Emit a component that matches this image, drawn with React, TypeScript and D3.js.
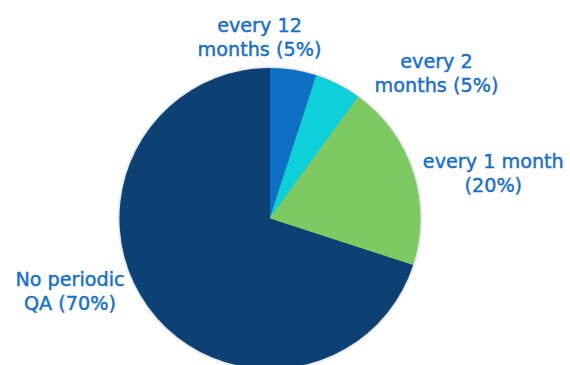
import React from "react";
import * as d3 from "d3";

const categories = ["every 12 months", "every 2 months", "every 1 month", "No periodic QA"];
const values = [5, 5, 20, 70];
const labelLines = [
  ["every 12", "months (5%)"],
  ["every 2", "months (5%)"],
  ["every 1 month", "(20%)"],
  ["No periodic", "QA (70%)"],
];
const colors = ["#1170C4", "#0CD0D8", "#7DCA63", "#0B4173"];
const labelPos: [number, number][] = [
  [259.5, 31.7],
  [436.5, 67.5],
  [493.3, 167.6],
  [70, 286],
];

export default function App() {
  const W = 570, H = 365;
  const cx = 270, cy = 218.5, r = 150.5;
  const pie = d3.pie<number>().sort(null).value((d) => d)(values);
  const arc = d3.arc<d3.PieArcDatum<number>>().innerRadius(0).outerRadius(r);
  return (
    <svg width={W} height={H} style={{ position: "absolute", left: 0, top: 0 }}>
      <defs>
        <filter id="sh" x="-10%" y="-10%" width="120%" height="120%">
          <feDropShadow dx="0" dy="0" stdDeviation="1.5" floodColor="#000" floodOpacity="0.35" />
        </filter>
      </defs>
      <g transform={`translate(${cx},${cy})`} filter="url(#sh)">
        {pie.map((p, i) => (
          <path key={categories[i]} d={arc(p) || ""} fill={colors[i]} />
        ))}
      </g>
      {labelLines.map((lines, i) => (
        <text
          key={i}
          x={labelPos[i][0]}
          y={labelPos[i][1]}
          textAnchor="middle"
          fill="#1A6FC6"
          stroke="#1A6FC6"
          strokeWidth={0.45}
          fontFamily="'DejaVu Sans', sans-serif"
          fontWeight={400}
          fontSize={19.2}
        >
          {lines.map((l, j) => (
            <tspan key={j} x={labelPos[i][0]} dy={j === 0 ? 0 : 24}>
              {l}
            </tspan>
          ))}
        </text>
      ))}
    </svg>
  );
}
